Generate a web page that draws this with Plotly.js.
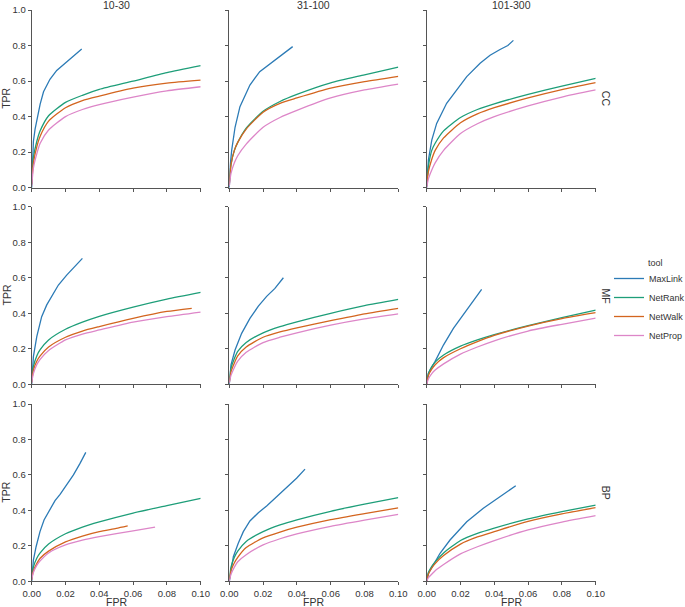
<!DOCTYPE html>
<html>
<head>
<meta charset="utf-8">
<script src="https://cdn.plot.ly/plotly-3.0.1.min.js"></script>
<style>html,body{margin:0;padding:0;background:#fff;overflow:hidden;}#chart{width:685px;height:607px;}</style>
</head>
<body>
<div id="chart"></div>
<script>
// ---------- categories ----------
const tools = ['MaxLink', 'NetRank', 'NetWalk', 'NetProp'];
const groups = ['10-30', '31-100', '101-300'];
const ontologies = ['CC', 'MF', 'BP'];
const xTickVals = [0, 0.02, 0.04, 0.06, 0.08, 0.10];
const yTickVals = [0, 0.2, 0.4, 0.6, 0.8, 1.0];
const legendTitle = 'tool';

// common FPR grid used by the smooth curves
const fprGrid = [0, 0.001, 0.003, 0.005, 0.01, 0.02, 0.03, 0.04, 0.06, 0.08, 0.10];

// ---------- CC ----------
const CC_10_30_MaxLink_fpr = [0, 0.0005, 0.001, 0.002, 0.003, 0.005, 0.007, 0.0108, 0.0148, 0.0197, 0.0256, 0.0296];
const CC_10_30_MaxLink_tpr = [0, 0.18, 0.26, 0.33, 0.38, 0.47, 0.54, 0.61, 0.66, 0.70, 0.745, 0.78];
const CC_10_30_NetRank_tpr = [0.02, 0.17, 0.26, 0.32, 0.405, 0.48, 0.52, 0.553, 0.60, 0.648, 0.687];
const CC_10_30_NetWalk_tpr = [0.02, 0.14, 0.23, 0.29, 0.375, 0.45, 0.49, 0.515, 0.56, 0.588, 0.605];
const CC_10_30_NetProp_tpr = [0.01, 0.11, 0.19, 0.25, 0.325, 0.40, 0.44, 0.468, 0.51, 0.545, 0.568];

const CC_31_100_MaxLink_fpr = [0, 0.0005, 0.0014, 0.0034, 0.0063, 0.0122, 0.018, 0.023, 0.028, 0.0335, 0.0375];
const CC_31_100_MaxLink_tpr = [0, 0.12, 0.21, 0.34, 0.456, 0.578, 0.653, 0.69, 0.728, 0.765, 0.794];
const CC_31_100_NetRank_tpr = [0.02, 0.13, 0.21, 0.255, 0.335, 0.43, 0.485, 0.525, 0.59, 0.635, 0.679];
const CC_31_100_NetWalk_tpr = [0.02, 0.13, 0.21, 0.255, 0.33, 0.425, 0.475, 0.505, 0.56, 0.597, 0.627];
const CC_31_100_NetProp_tpr = [0.01, 0.08, 0.14, 0.18, 0.245, 0.34, 0.395, 0.435, 0.505, 0.55, 0.583];

const CC_101_300_MaxLink_fpr = [0, 0.001, 0.003, 0.0059, 0.0118, 0.0178, 0.0237, 0.0316, 0.0375, 0.0434, 0.048, 0.0513];
const CC_101_300_MaxLink_tpr = [0, 0.156, 0.268, 0.362, 0.475, 0.55, 0.625, 0.70, 0.745, 0.778, 0.80, 0.829];
const CC_101_300_NetRank_tpr = [0.02, 0.12, 0.21, 0.25, 0.32, 0.395, 0.44, 0.472, 0.525, 0.572, 0.615];
const CC_101_300_NetWalk_tpr = [0.01, 0.09, 0.16, 0.21, 0.28, 0.365, 0.415, 0.45, 0.505, 0.552, 0.591];
const CC_101_300_NetProp_tpr = [0.0, 0.05, 0.10, 0.14, 0.21, 0.305, 0.36, 0.40, 0.46, 0.51, 0.55];

// ---------- MF ----------
const MF_10_30_MaxLink_fpr = [0, 0.001, 0.003, 0.0059, 0.0089, 0.0118, 0.0158, 0.0207, 0.0266, 0.030];
const MF_10_30_MaxLink_tpr = [0, 0.156, 0.268, 0.381, 0.447, 0.493, 0.559, 0.615, 0.672, 0.709];
const MF_10_30_NetRank_tpr = [0.02, 0.10, 0.16, 0.195, 0.25, 0.31, 0.35, 0.383, 0.435, 0.48, 0.518];
const MF_10_30_NetWalk_fpr = [0, 0.001, 0.003, 0.005, 0.01, 0.02, 0.03, 0.04, 0.06, 0.08, 0.0947];
const MF_10_30_NetWalk_tpr = [0.01, 0.08, 0.13, 0.16, 0.21, 0.265, 0.30, 0.325, 0.371, 0.41, 0.428];
const MF_10_30_NetProp_tpr = [0.01, 0.06, 0.11, 0.14, 0.19, 0.25, 0.283, 0.306, 0.35, 0.381, 0.407];

const MF_31_100_MaxLink_fpr = [0, 0.001, 0.0034, 0.0073, 0.0122, 0.0172, 0.0221, 0.027, 0.032];
const MF_31_100_MaxLink_tpr = [0, 0.109, 0.193, 0.287, 0.371, 0.44, 0.495, 0.54, 0.60];
const MF_31_100_NetRank_tpr = [0.02, 0.09, 0.145, 0.185, 0.235, 0.29, 0.325, 0.352, 0.40, 0.443, 0.478];
const MF_31_100_NetWalk_tpr = [0.01, 0.07, 0.12, 0.16, 0.21, 0.265, 0.295, 0.318, 0.358, 0.397, 0.428];
const MF_31_100_NetProp_tpr = [0.01, 0.05, 0.095, 0.13, 0.18, 0.235, 0.265, 0.29, 0.333, 0.368, 0.396];

const MF_101_300_MaxLink_fpr = [0, 0.001, 0.0049, 0.0099, 0.0158, 0.0207, 0.0247, 0.0286, 0.0325];
const MF_101_300_MaxLink_tpr = [0, 0.062, 0.128, 0.221, 0.315, 0.381, 0.433, 0.484, 0.535];
const MF_101_300_NetRank_tpr = [0.01, 0.06, 0.10, 0.125, 0.165, 0.215, 0.25, 0.28, 0.33, 0.375, 0.418];
const MF_101_300_NetWalk_tpr = [0.0, 0.05, 0.085, 0.11, 0.15, 0.20, 0.24, 0.275, 0.328, 0.37, 0.403];
const MF_101_300_NetProp_tpr = [0.0, 0.03, 0.06, 0.08, 0.115, 0.17, 0.21, 0.245, 0.30, 0.338, 0.373];

// ---------- BP ----------
const BP_10_30_MaxLink_fpr = [0, 0.001, 0.0026, 0.0049, 0.0073, 0.0108, 0.0138, 0.0168, 0.0207, 0.0247, 0.0286, 0.032];
const BP_10_30_MaxLink_tpr = [0, 0.12, 0.195, 0.28, 0.346, 0.405, 0.455, 0.49, 0.543, 0.60, 0.665, 0.727];
const BP_10_30_NetRank_tpr = [0.02, 0.08, 0.13, 0.16, 0.21, 0.268, 0.306, 0.335, 0.385, 0.427, 0.468];
const BP_10_30_NetWalk_fpr = [0, 0.001, 0.003, 0.005, 0.01, 0.02, 0.03, 0.04, 0.05, 0.0568];
const BP_10_30_NetWalk_tpr = [0.01, 0.06, 0.10, 0.13, 0.17, 0.222, 0.255, 0.28, 0.298, 0.312];
const BP_10_30_NetProp_fpr = [0, 0.001, 0.003, 0.005, 0.01, 0.02, 0.03, 0.04, 0.06, 0.073];
const BP_10_30_NetProp_tpr = [0.01, 0.05, 0.09, 0.115, 0.16, 0.205, 0.232, 0.252, 0.285, 0.306];

const BP_31_100_MaxLink_fpr = [0, 0.0024, 0.0053, 0.0083, 0.0122, 0.0172, 0.0221, 0.028, 0.0339, 0.0398, 0.0448];
const BP_31_100_MaxLink_tpr = [0, 0.139, 0.214, 0.28, 0.34, 0.387, 0.425, 0.477, 0.525, 0.581, 0.633];
const BP_31_100_NetRank_tpr = [0.01, 0.08, 0.135, 0.17, 0.225, 0.28, 0.318, 0.347, 0.395, 0.435, 0.472];
const BP_31_100_NetWalk_tpr = [0.01, 0.06, 0.105, 0.135, 0.19, 0.245, 0.278, 0.305, 0.348, 0.382, 0.414];
const BP_31_100_NetProp_tpr = [0.0, 0.04, 0.08, 0.11, 0.15, 0.205, 0.24, 0.268, 0.31, 0.345, 0.378];

const BP_101_300_MaxLink_fpr = [0, 0.001, 0.0039, 0.0079, 0.0138, 0.0237, 0.0335, 0.0434, 0.0527];
const BP_101_300_MaxLink_tpr = [0, 0.045, 0.092, 0.158, 0.233, 0.336, 0.412, 0.477, 0.539];
const BP_101_300_NetRank_tpr = [0.0, 0.05, 0.085, 0.11, 0.16, 0.23, 0.27, 0.30, 0.352, 0.393, 0.43];
const BP_101_300_NetWalk_tpr = [0.0, 0.04, 0.075, 0.10, 0.145, 0.21, 0.25, 0.28, 0.338, 0.38, 0.415];
const BP_101_300_NetProp_tpr = [0.0, 0.02, 0.04, 0.06, 0.095, 0.155, 0.195, 0.23, 0.29, 0.334, 0.37];

// ---------- table built from the arrays ----------
const panels = {
  'CC|10-30':   {MaxLink: [CC_10_30_MaxLink_fpr, CC_10_30_MaxLink_tpr], NetRank: [fprGrid, CC_10_30_NetRank_tpr], NetWalk: [fprGrid, CC_10_30_NetWalk_tpr], NetProp: [fprGrid, CC_10_30_NetProp_tpr]},
  'CC|31-100':  {MaxLink: [CC_31_100_MaxLink_fpr, CC_31_100_MaxLink_tpr], NetRank: [fprGrid, CC_31_100_NetRank_tpr], NetWalk: [fprGrid, CC_31_100_NetWalk_tpr], NetProp: [fprGrid, CC_31_100_NetProp_tpr]},
  'CC|101-300': {MaxLink: [CC_101_300_MaxLink_fpr, CC_101_300_MaxLink_tpr], NetRank: [fprGrid, CC_101_300_NetRank_tpr], NetWalk: [fprGrid, CC_101_300_NetWalk_tpr], NetProp: [fprGrid, CC_101_300_NetProp_tpr]},
  'MF|10-30':   {MaxLink: [MF_10_30_MaxLink_fpr, MF_10_30_MaxLink_tpr], NetRank: [fprGrid, MF_10_30_NetRank_tpr], NetWalk: [MF_10_30_NetWalk_fpr, MF_10_30_NetWalk_tpr], NetProp: [fprGrid, MF_10_30_NetProp_tpr]},
  'MF|31-100':  {MaxLink: [MF_31_100_MaxLink_fpr, MF_31_100_MaxLink_tpr], NetRank: [fprGrid, MF_31_100_NetRank_tpr], NetWalk: [fprGrid, MF_31_100_NetWalk_tpr], NetProp: [fprGrid, MF_31_100_NetProp_tpr]},
  'MF|101-300': {MaxLink: [MF_101_300_MaxLink_fpr, MF_101_300_MaxLink_tpr], NetRank: [fprGrid, MF_101_300_NetRank_tpr], NetWalk: [fprGrid, MF_101_300_NetWalk_tpr], NetProp: [fprGrid, MF_101_300_NetProp_tpr]},
  'BP|10-30':   {MaxLink: [BP_10_30_MaxLink_fpr, BP_10_30_MaxLink_tpr], NetRank: [fprGrid, BP_10_30_NetRank_tpr], NetWalk: [BP_10_30_NetWalk_fpr, BP_10_30_NetWalk_tpr], NetProp: [BP_10_30_NetProp_fpr, BP_10_30_NetProp_tpr]},
  'BP|31-100':  {MaxLink: [BP_31_100_MaxLink_fpr, BP_31_100_MaxLink_tpr], NetRank: [fprGrid, BP_31_100_NetRank_tpr], NetWalk: [fprGrid, BP_31_100_NetWalk_tpr], NetProp: [fprGrid, BP_31_100_NetProp_tpr]},
  'BP|101-300': {MaxLink: [BP_101_300_MaxLink_fpr, BP_101_300_MaxLink_tpr], NetRank: [fprGrid, BP_101_300_NetRank_tpr], NetWalk: [fprGrid, BP_101_300_NetWalk_tpr], NetProp: [fprGrid, BP_101_300_NetProp_tpr]}
};

// ---------- styling ----------
const colors = {MaxLink: '#2c7bb6', NetRank: '#1e9e79', NetWalk: '#d3651f', NetProp: '#dd86c8'};
const FONT = 'Liberation Sans, Arial, sans-serif';
const TXT = '#333333';
const AX = '#555555';
const W = 685, H = 607;
const colPx = [[31.7, 200.7], [229.3, 398.3], [426.7, 595.7]];
const rowPx = [[10, 187.7], [206.7, 384.3], [404, 581.3]];

const traces = [];
const layout = {
  width: W, height: H, autosize: false,
  margin: {l: 0, r: 0, t: 0, b: 0, autoexpand: false},
  paper_bgcolor: '#ffffff', plot_bgcolor: '#ffffff',
  font: {family: FONT, size: 10, color: TXT},
  showlegend: true,
  legend: {
    x: 609 / W, y: 1 - 264 / H, xanchor: 'left', yanchor: 'top',
    font: {size: 9, color: TXT},
    itemwidth: 30, tracegroupgap: 0,
    bgcolor: 'rgba(0,0,0,0)'
  },
  annotations: []
};

ontologies.forEach((ont, r) => {
  groups.forEach((grp, c) => {
    const idx = r * 3 + c + 1;
    const xa = 'xaxis' + (idx === 1 ? '' : idx);
    const ya = 'yaxis' + (idx === 1 ? '' : idx);
    const xref = 'x' + (idx === 1 ? '' : idx);
    const yref = 'y' + (idx === 1 ? '' : idx);
    layout[xa] = {
      domain: [colPx[c][0] / W, colPx[c][1] / W],
      anchor: yref, range: [0, 0.1],
      tickvals: xTickVals, tickformat: '.2f',
      showticklabels: r === 2,
      ticks: 'outside', ticklen: 3, tickwidth: 1, tickcolor: AX,
      showline: true, linecolor: AX, linewidth: 1,
      showgrid: false, zeroline: false, automargin: false,
      tickfont: {size: 9.5, color: TXT}
    };
    layout[ya] = {
      domain: [1 - rowPx[r][1] / H, 1 - rowPx[r][0] / H],
      anchor: xref, range: [0, 1],
      tickvals: yTickVals, tickformat: '.1f',
      showticklabels: c === 0,
      ticks: 'outside', ticklen: 3, tickwidth: 1, tickcolor: AX,
      showline: true, linecolor: AX, linewidth: 1,
      showgrid: false, zeroline: false, automargin: false,
      tickfont: {size: 9.5, color: TXT}
    };
    const pd = panels[ont + '|' + grp];
    tools.forEach(t => {
      traces.push({
        type: 'scatter', mode: 'lines',
        x: pd[t][0], y: pd[t][1],
        xaxis: xref, yaxis: yref,
        name: t,
        showlegend: idx === 1,
        line: {color: colors[t], width: 1.3, shape: t === 'MaxLink' ? 'linear' : 'spline', smoothing: 0.6},
        hoverinfo: 'skip'
      });
    });
  });
});

// legend title
layout.annotations.push({
  text: legendTitle, xref: 'paper', yref: 'paper',
  x: 646 / W, y: 1 - 263 / H, xanchor: 'left', yanchor: 'middle',
  showarrow: false, font: {size: 9, color: TXT}
});
// column titles and FPR
groups.forEach((g, c) => {
  const xc = (colPx[c][0] + colPx[c][1]) / 2 / W;
  layout.annotations.push({
    text: g, xref: 'paper', yref: 'paper',
    x: xc, y: 1 - 5 / H,
    xanchor: 'center', yanchor: 'middle', showarrow: false,
    font: {size: 10.5, color: TXT}
  });
  layout.annotations.push({
    text: 'FPR', xref: 'paper', yref: 'paper',
    x: xc, y: 1 - 601.5 / H,
    xanchor: 'center', yanchor: 'middle', showarrow: false,
    font: {size: 10.5, color: TXT}
  });
});
// row labels + TPR
ontologies.forEach((o, r) => {
  const yc = 1 - (rowPx[r][0] + rowPx[r][1]) / 2 / H;
  layout.annotations.push({
    text: o, xref: 'paper', yref: 'paper',
    x: 606 / W, y: yc, xanchor: 'center', yanchor: 'middle',
    textangle: 90, showarrow: false, font: {size: 10.5, color: TXT}
  });
  layout.annotations.push({
    text: 'TPR', xref: 'paper', yref: 'paper',
    x: 6 / W, y: yc, xanchor: 'center', yanchor: 'middle',
    textangle: -90, showarrow: false, font: {size: 10.5, color: TXT}
  });
});

Plotly.newPlot('chart', traces, layout, {staticPlot: true, displayModeBar: false});
</script>
</body>
</html>
